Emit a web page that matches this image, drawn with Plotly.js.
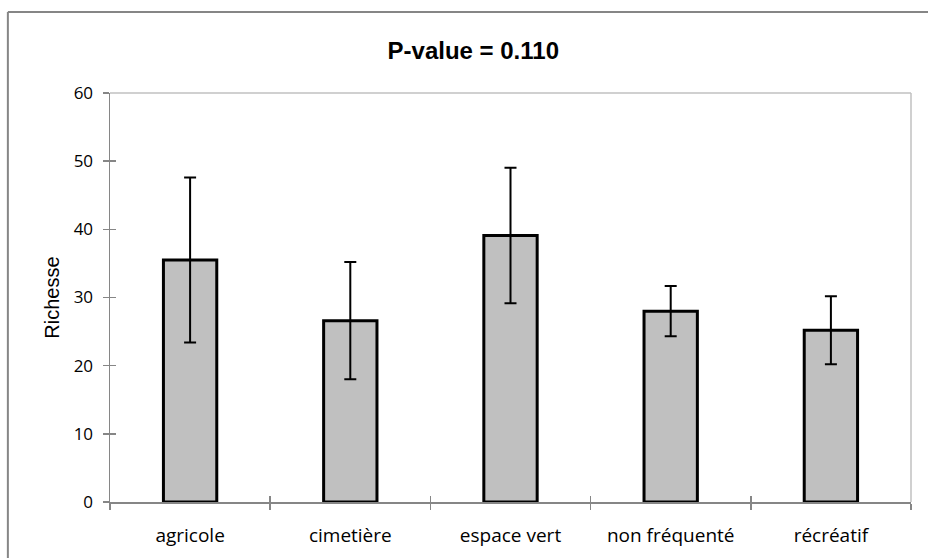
<!DOCTYPE html>
<html>
<head>
<meta charset="utf-8">
<script src="https://cdn.plot.ly/plotly-3.0.1.min.js"></script>
<style>html,body{margin:0;padding:0;background:#fff;}#chart{width:928px;height:558px;}</style>
</head>
<body>
<div id="chart"></div>
<script>
const categories = ["agricole", "cimetière", "espace vert", "non fréquenté", "récréatif"];
const richesse = [35.5, 26.6, 39.1, 28.0, 25.2];
const errors = [12.1, 8.6, 9.95, 3.7, 5.0];
const yTicks = [0, 10, 20, 30, 40, 50, 60];

const axisGray = "#868686";
const tickFont = {family: "'Open Sans', Lato, sans-serif", size: 17, color: "#000"};

const trace = {
  type: "bar",
  x: categories,
  y: richesse,
  marker: {color: "#c0c0c0", line: {color: "#000", width: 3}},
  error_y: {type: "data", array: errors, visible: true, color: "#000", thickness: 2, width: 6},
  width: 0.333,
  hoverinfo: "skip",
  showlegend: false
};

const layout = {
  width: 928, height: 558,
  margin: {l: 110, r: 17, t: 93, b: 56},
  paper_bgcolor: "#fff", plot_bgcolor: "#fff",
  title: {text: "<b>P-value = 0.110</b>", x: 0.51, xanchor: "center", y: 0.91, yanchor: "middle",
          font: {family: "'Liberation Sans', Arial, sans-serif", size: 24, color: "#000"}},
  xaxis: {
    type: "category", tickson: "boundaries", ticks: "outside", ticklen: 6, tickwidth: 1.5, tickcolor: axisGray,
    showline: true, linecolor: axisGray, linewidth: 1.5, showgrid: false, zeroline: false,
    tickfont: {family: "'Open Sans', Lato, sans-serif", size: 19, color: "#000"},
    ticklabelstandoff: 16, range: [-0.5, 4.5], fixedrange: true
  },
  xaxis2: {
    type: "category", overlaying: "x", matches: "x", tickson: "boundaries", ticks: "inside", ticklen: 6,
    tickwidth: 1.5, tickcolor: axisGray, showticklabels: false, showline: false, showgrid: false,
    zeroline: false, range: [-0.5, 4.5], side: "bottom", anchor: "y"
  },
  yaxis: {
    range: [0, 60], tickvals: yTicks, ticktext: yTicks.map(String), ticks: "outside", ticklen: 6,
    tickwidth: 1.5, tickcolor: axisGray, showline: true, linecolor: axisGray, linewidth: 1.5,
    showgrid: false, zeroline: false, tickfont: tickFont, ticklabelstandoff: 6,
    title: {text: "Richesse", standoff: 8, font: {family: "'Liberation Sans', Arial, sans-serif", size: 20, color: "#000"}}
  },
  yaxis2: {
    overlaying: "y", range: [0, 60], tickvals: yTicks, ticks: "inside", ticklen: 6, tickwidth: 1.5,
    tickcolor: axisGray, showticklabels: false, showline: false, showgrid: false, zeroline: false,
    side: "left", anchor: "x"
  },
  shapes: [
    {type: "line", xref: "paper", yref: "paper", x0: 0, x1: 1, y0: 1, y1: 1, line: {color: "#c0c0c0", width: 1.5}},
    {type: "line", xref: "paper", yref: "paper", x0: 1, x1: 1, y0: 0, y1: 1, line: {color: "#c0c0c0", width: 1.5}},
    {type: "line", xref: "paper", yref: "paper", x0: -0.1275, x1: 1.03, y0: 1.198, y1: 1.198, line: {color: axisGray, width: 2}},
    {type: "line", xref: "paper", yref: "paper", x0: -0.1275, x1: -0.1275, y0: 1.198, y1: -0.15, line: {color: axisGray, width: 2}}
  ]
};

const dummyX = {type: "scatter", x: categories, y: richesse, xaxis: "x2", yaxis: "y2", mode: "none", hoverinfo: "skip", showlegend: false};

Plotly.newPlot("chart", [trace, dummyX], layout, {displayModeBar: false, staticPlot: true});
</script>
</body>
</html>
